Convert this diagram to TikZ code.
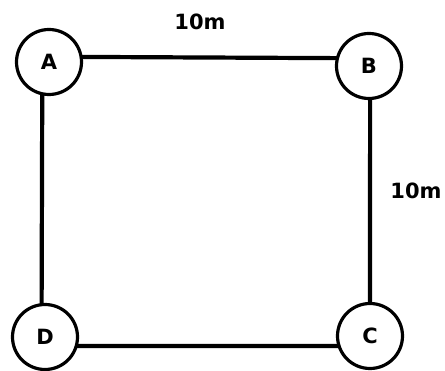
\documentclass[tikz,border=0pt]{standalone}
\usepackage{fontspec}
\newfontfamily\labelfont{DejaVu Sans}
\begin{document}
\begin{tikzpicture}[x=1pt,y=-1pt,
  station/.style={circle,draw=black,line width=3.2pt,minimum size=65pt,inner sep=0pt,outer sep=0pt,
    font=\labelfont\bfseries\fontsize{21}{25}\selectfont},
  side/.style={line width=4.2pt,black},
  dist/.style={font=\labelfont\bfseries\fontsize{21}{25}\selectfont,inner sep=0pt}]
  \useasboundingbox (0,0) rectangle (445,371);
  % corner stations
  \node[station] (A) at (49,62) {A};
  \node[station] (B) at (369,66) {B};
  \node[station] (C) at (370,336) {C};
  \node[station] (D) at (45,337) {D};
  % sides of the square
  \draw[side] (A.9) -- (B.166);
  \draw[side] (B.-88) -- (C.90);
  \draw[side] (D.-16) -- (C.198);
  \draw[side] (A.-102) -- (D.96);
  % distances
  \node[dist] (ab) at (200,22) {10m};
  \node[dist] (bc) at (416,191) {10m};
\end{tikzpicture}
\end{document}
